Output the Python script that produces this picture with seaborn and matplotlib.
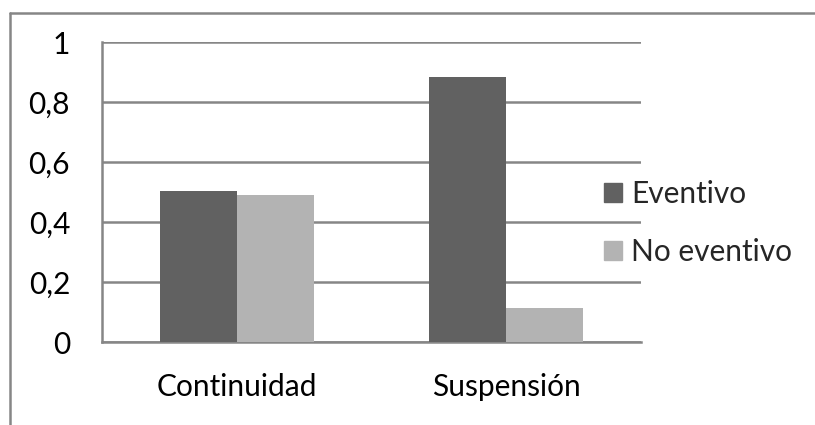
import pandas as pd
import matplotlib.pyplot as plt
import matplotlib.lines as mlines
import seaborn as sns

# Data
categories = ["Continuidad", "Suspensión"]
series = ["Eventivo", "No eventivo"]
eventivo = [0.505, 0.882]
no_eventivo = [0.49, 0.115]
y_ticks = [0, 0.2, 0.4, 0.6, 0.8, 1]
y_tick_labels = ["0", "0,2", "0,4", "0,6", "0,8", "1"]

df = pd.DataFrame({
    "categoria": categories * 2,
    "serie": [series[0]] * 2 + [series[1]] * 2,
    "valor": eventivo + no_eventivo,
})

sns.set_style("white")
plt.rcParams["font.family"] = ["Lato", "DejaVu Sans"]

W, H = 815, 425
GRID = "#868686"
FS = 21.5
fig = plt.figure(figsize=(W / 100, H / 100), dpi=100)
ax = fig.add_axes([102 / W, (H - 342) / H, (641 - 102) / W, 300 / H])

sns.barplot(
    data=df, x="categoria", y="valor", hue="serie",
    order=categories, hue_order=series,
    palette=["#616161", "#b3b3b3"], width=0.573,
    saturation=1, linewidth=0, ax=ax, legend=False, zorder=3,
)

ax.set_xlim(-0.5, 1.5)
ax.set_ylim(0, 1)
ax.set_xlabel("")
ax.set_ylabel("")

# y axis
ax.set_yticks(y_ticks)
ax.set_yticklabels(y_tick_labels, fontsize=FS)
ax.yaxis.grid(True, color=GRID, linewidth=1.8, zorder=0)
ax.set_axisbelow(True)
ax.tick_params(axis="y", length=7, width=1.8, color=GRID, pad=16, labelcolor="black")

# x axis: ticks at boundaries, labels at centres
ax.set_xticks([-0.5, 0.5, 1.5])
ax.set_xticklabels([])
ax.set_xticks([0, 1], minor=True)
ax.set_xticklabels(categories, minor=True, fontsize=FS)
ax.tick_params(axis="x", which="major", length=7, width=1.8, color=GRID)
ax.tick_params(axis="x", which="minor", length=0, pad=22, labelcolor="black")

for side in ["top", "right"]:
    ax.spines[side].set_visible(False)
for side in ["left", "bottom"]:
    ax.spines[side].set_color(GRID)
    ax.spines[side].set_linewidth(1.8)

# legend
handles = [plt.Rectangle((0, 0), 1, 1, color=c) for c in ["#616161", "#b3b3b3"]]
fig.legend(
    handles, series, loc="center left",
    bbox_to_anchor=(604 / W, (H - 223) / H),
    frameon=False, fontsize=FS, handlelength=0.6, handleheight=0.6,
    handletextpad=0.3, labelspacing=1.0, borderpad=0, borderaxespad=0,
)

# chart border (top and left visible)
fig.add_artist(mlines.Line2D([10 / W, 1], [(H - 13) / H, (H - 13) / H], color=GRID, linewidth=1.8))
fig.add_artist(mlines.Line2D([10 / W, 10 / W], [0, (H - 13) / H], color=GRID, linewidth=1.8))

fig.savefig("out.png", dpi=100)
